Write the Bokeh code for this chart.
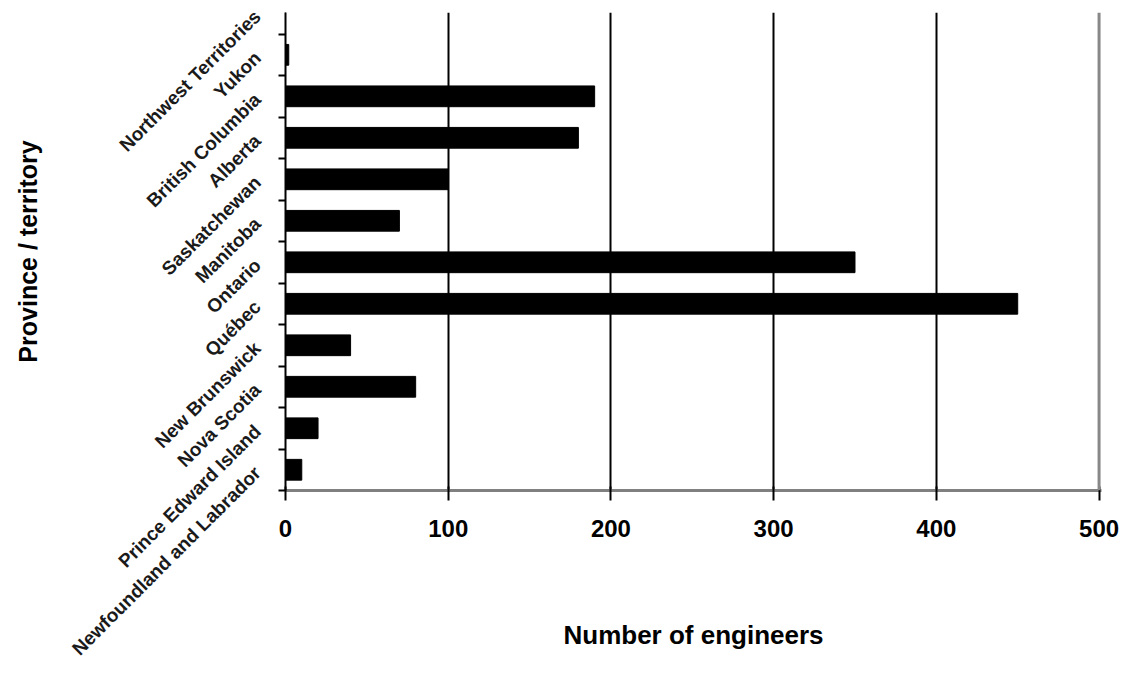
import math
from bokeh.plotting import figure
from bokeh.models import FixedTicker, Range1d, Span
from bokeh.embed import file_html
from bokeh.resources import INLINE

# Data (bottom to top)
provinces = ["Newfoundland and Labrador", "Prince Edward Island", "Nova Scotia",
             "New Brunswick", "Québec", "Ontario", "Manitoba", "Saskatchewan",
             "Alberta", "British Columbia", "Yukon", "Northwest Territories"]
engineers = [10, 20, 80, 40, 450, 350, 70, 100, 180, 190, 2, 0]
x_ticks = [0, 100, 200, 300, 400, 500]

FONT = "Liberation Sans"
pos = list(range(len(provinces)))

p = figure(output_backend="svg", toolbar_location=None,
           frame_width=816, frame_height=478,
           min_border_left=285, min_border_top=12, min_border_right=19, min_border_bottom=190,
           x_range=Range1d(0, 501.5), y_range=Range1d(-0.5, 11.02))
p.outline_line_color = None
p.background_fill_color = "white"

p.hbar(y=pos, right=engineers, left=0, height=0.5, fill_color="black", line_color="black")

# x axis
p.xaxis.ticker = FixedTicker(ticks=x_ticks)
p.xaxis.axis_line_color = "#808080"
p.xaxis.axis_line_width = 3
p.xaxis.major_tick_in = 4
p.xaxis.major_tick_out = 10
p.xaxis.major_tick_line_color = "black"
p.xaxis.major_tick_line_width = 2
p.xaxis.minor_tick_line_color = None
p.xaxis.major_label_text_font = FONT
p.xaxis.major_label_text_font_size = "24px"
p.xaxis.major_label_text_font_style = "bold"
p.xaxis.major_label_text_color = "black"
p.xaxis.major_label_standoff = 19
p.xaxis.axis_label = "Number of engineers"
p.xaxis.axis_label_text_font = FONT
p.xaxis.axis_label_text_font_size = "26px"
p.xaxis.axis_label_text_font_style = "bold"
p.xaxis.axis_label_text_color = "black"
p.xaxis.axis_label_standoff = 80

p.xgrid.ticker = FixedTicker(ticks=[100, 200, 300, 400])
p.xgrid.grid_line_color = "black"
p.xgrid.grid_line_width = 2
p.ygrid.grid_line_color = None

p.add_layout(Span(location=500, dimension="height", line_color="#888888", line_width=3))

# y axis
p.yaxis.ticker = FixedTicker(ticks=pos, minor_ticks=[i - 0.5 for i in range(len(provinces))])
p.yaxis.major_label_overrides = {i: name for i, name in zip(pos, provinces)}
p.yaxis.major_tick_in = 0
p.yaxis.major_tick_out = 0
p.yaxis.minor_tick_in = 0
p.yaxis.minor_tick_out = 7
p.yaxis.minor_tick_line_color = "black"
p.yaxis.minor_tick_line_width = 2
p.yaxis.axis_line_color = "black"
p.yaxis.axis_line_width = 2
p.yaxis.major_label_orientation = math.pi / 4
p.yaxis.major_label_text_font = FONT
p.yaxis.major_label_text_font_size = "19px"
p.yaxis.major_label_text_font_style = "bold"
p.yaxis.major_label_text_color = "#1a1a1a"
p.yaxis.major_label_standoff = 21
p.yaxis.axis_label = "Province / territory"
p.yaxis.axis_label_text_font = FONT
p.yaxis.axis_label_text_font_size = "25px"
p.yaxis.axis_label_text_font_style = "bold"
p.yaxis.axis_label_text_color = "black"
p.yaxis.axis_label_standoff = 16

open("out.html", "w").write(file_html(p, INLINE))
